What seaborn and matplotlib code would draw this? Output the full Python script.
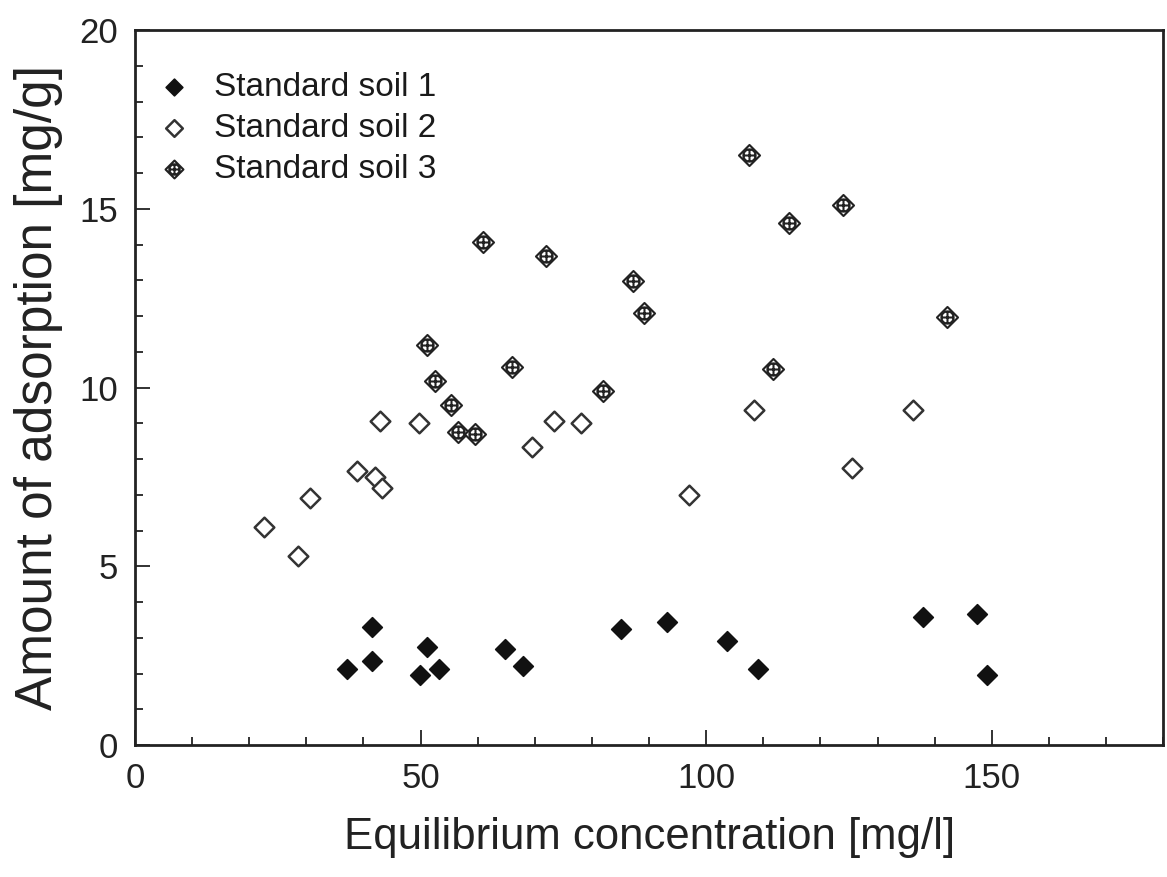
import matplotlib
matplotlib.use("Agg")
import matplotlib.pyplot as plt
from matplotlib.path import Path
from matplotlib.ticker import MultipleLocator
import seaborn as sns

# Equilibrium concentration [mg/l] and amount adsorbed [mg/g] for each soil
soil1_conc = [37.1, 41.5, 41.5, 49.9, 51.1, 53.2, 64.8, 67.9, 85.1, 93.2, 103.7, 109.1, 138.0, 147.4, 149.2]
soil1_ads = [2.13, 2.35, 3.30, 1.96, 2.74, 2.13, 2.69, 2.21, 3.24, 3.44, 2.91, 2.13, 3.58, 3.66, 1.96]

soil2_conc = [22.6, 28.5, 30.6, 38.9, 42.0, 43.2, 42.9, 49.7, 69.5, 73.4, 78.1, 97.0, 108.4, 125.5, 136.2]
soil2_ads = [6.10, 5.29, 6.91, 7.66, 7.50, 7.19, 9.06, 9.01, 8.34, 9.06, 9.01, 6.99, 9.37, 7.75, 9.37]

soil3_conc = [51.1, 52.5, 55.3, 56.6, 59.6, 60.9, 66.0, 72.0, 81.9, 87.2, 89.1, 107.5, 111.7, 114.5, 124.0, 142.2]
soil3_ads = [11.19, 10.18, 9.51, 8.76, 8.70, 14.07, 10.57, 13.68, 9.90, 12.98, 12.08, 16.50, 10.52, 14.60, 15.10, 11.97]

series_labels = ["Standard soil 1", "Standard soil 2", "Standard soil 3"]
x_ticks = [0, 50, 100, 150]
y_ticks = [0, 5, 10, 15, 20]

sns.set_theme(style="white")
plt.rcParams["font.family"] = ["Liberation Sans", "DejaVu Sans"]
plt.rcParams["text.color"] = "#1a1a1a"

# Marker shapes: plain diamond, and a diamond holding a crossed circle
diamond = Path([(0, 1), (1, 0), (0, -1), (-1, 0), (0, 1)],
               [Path.MOVETO, Path.LINETO, Path.LINETO, Path.LINETO, Path.CLOSEPOLY])
cross = Path([(-0.6, 0), (0.6, 0), (0, -0.6), (0, 0.6)],
             [Path.MOVETO, Path.LINETO, Path.MOVETO, Path.LINETO])
crossed_diamond = Path.make_compound_path(diamond, Path.circle((0, 0), 0.58), cross)

fig = plt.figure(figsize=(11.67, 8.77), dpi=100)
ax = fig.add_axes([0.1157, 0.1505, 0.881, 0.815])

sns.scatterplot(x=soil1_conc, y=soil1_ads, ax=ax, marker=diamond, s=200,
                color="#111111", edgecolor="#111111", linewidth=1.2,
                label=series_labels[0], zorder=3)
sns.scatterplot(x=soil2_conc, y=soil2_ads, ax=ax, marker=diamond, s=200,
                color="white", edgecolor="#333333", linewidth=1.8,
                label=series_labels[1], zorder=3)
sns.scatterplot(x=soil3_conc, y=soil3_ads, ax=ax, marker=crossed_diamond, s=230,
                color="white", edgecolor="#222222", linewidth=1.5,
                label=series_labels[2], zorder=3)

ax.set_xlim(0, 180)
ax.set_ylim(0, 20)
ax.set_xticks(x_ticks)
ax.set_yticks(y_ticks)
ax.xaxis.set_minor_locator(MultipleLocator(10))
ax.yaxis.set_minor_locator(MultipleLocator(1))
ax.tick_params(which="both", direction="in", color="#222222", width=1.3,
               bottom=True, left=True, top=False, right=False)
ax.tick_params(which="major", length=11, labelsize=25, pad=12, labelcolor="#222222")
ax.tick_params(which="minor", length=6)

for side in ["left", "right", "top", "bottom"]:
    ax.spines[side].set_color("#222222")
    ax.spines[side].set_linewidth(2.0)

ax.set_xlabel("Equilibrium concentration [mg/l]", fontsize=31.5, labelpad=16, color="#222222")
ax.set_ylabel("Amount of adsorption [mg/g]", fontsize=37, labelpad=12, color="#222222")

ax.legend(loc="upper left", bbox_to_anchor=(-0.014, 0.988), frameon=False,
          fontsize=24, handletextpad=0.6, labelspacing=0.3, borderaxespad=0.6,
          markerscale=0.85, handlelength=1.2)

fig.savefig("out.png", dpi=100)
